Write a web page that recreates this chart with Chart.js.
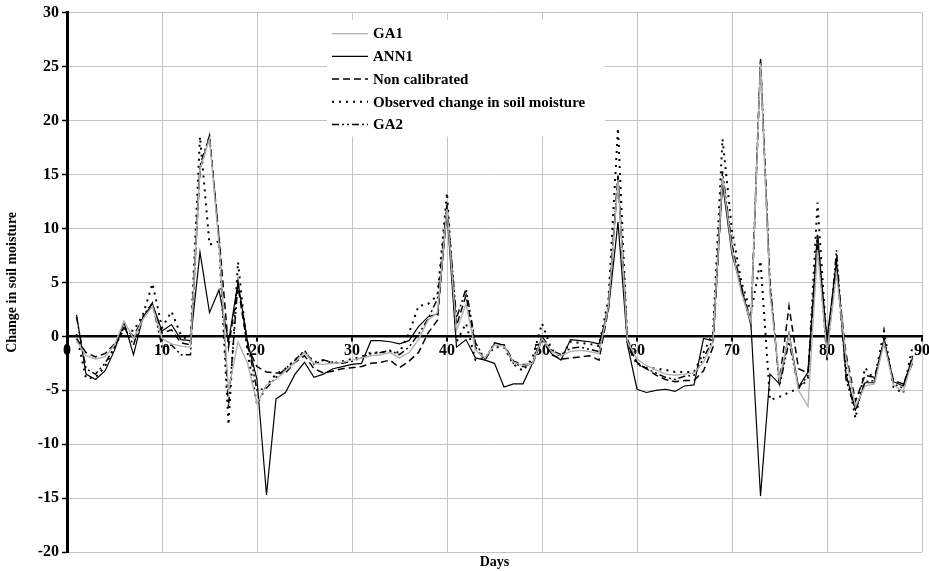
<!DOCTYPE html>
<html><head><meta charset="utf-8">
<script src="https://cdn.jsdelivr.net/npm/chart.js@4.4.1/dist/chart.umd.min.js"></script>
<style>html,body{margin:0;padding:0;background:#fff;}#wrap{width:929px;height:571px;}</style>
</head><body><div id="wrap"><canvas id="c" width="929" height="571"></canvas></div>
<script>
const days = [1,2,3,4,5,6,7,8,9,10,11,12,13,14,15,16,17,18,19,20,21,22,23,24,25,26,27,28,29,30,31,32,33,34,35,36,37,38,39,40,41,42,43,44,45,46,47,48,49,50,51,52,53,54,55,56,57,58,59,60,61,62,63,64,65,66,67,68,69,70,71,72,73,74,75,76,77,78,79,80,81,82,83,84,85,86,87,88,89];
const seriesLabels = ['GA1','ANN1','Non calibrated','Observed change in soil moisture','GA2'];
const ga1 = [-0.4,-1.8,-2.1,-1.9,-0.8,1.4,-0.2,1.6,2.8,-0.2,-0.7,-0.9,-1.0,15.5,18.3,8.5,-5.0,-0.5,-2.5,-6.2,-4.5,-4.0,-3.2,-2.4,-1.5,-2.5,-2.6,-2.5,-2.4,-2.2,-2.0,-1.8,-1.7,-1.5,-2.0,-1.5,-0.3,1.5,2.2,11.8,0.5,3.0,-1.3,-2.0,-0.8,-0.9,-2.4,-2.7,-2.5,-0.2,-1.4,-1.8,-1.4,-1.3,-1.4,-1.6,2.8,14.5,-0.5,-2.1,-2.7,-3.1,-3.5,-3.6,-3.5,-3.4,-2.4,-0.5,14.8,8.0,4.0,1.3,25.3,4.0,-4.0,0.2,-5.0,-6.5,8.0,-1.5,5.8,-2.0,-6.5,-4.6,-4.4,-0.6,-4.5,-5.1,-2.3];
const ann1 = [2.0,-3.5,-4.0,-3.2,-1.3,1.3,-1.7,1.8,3.0,0.5,1.1,-0.3,-0.4,7.8,2.2,4.3,-0.5,5.0,-0.5,-4.0,-14.7,-5.8,-5.2,-3.5,-2.4,-3.8,-3.5,-3.0,-2.8,-2.6,-2.5,-0.4,-0.4,-0.5,-0.7,-0.4,0.9,1.8,2.1,11.5,-1.0,-0.3,-2.0,-2.2,-2.5,-4.7,-4.4,-4.4,-2.5,-0.1,-1.6,-2.2,-0.3,-0.4,-0.5,-0.7,2.5,10.6,-0.8,-4.9,-5.2,-5.0,-4.9,-5.1,-4.6,-4.5,-0.2,-0.4,14.2,7.6,4.5,1.0,-14.8,-3.5,-4.4,0.3,-4.7,-3.3,9.4,-0.3,7.0,-3.5,-6.8,-4.3,-4.3,-0.3,-4.2,-4.6,-2.0];
const nonCal = [-0.2,-1.5,-1.9,-1.6,-0.7,0.8,0.0,1.7,2.9,0.3,0.6,-0.6,-0.8,15.5,18.5,9.2,-1.0,4.6,-1.0,-2.8,-3.3,-3.4,-3.4,-2.4,-1.8,-3.0,-3.4,-3.2,-3.0,-2.9,-2.8,-2.5,-2.4,-2.2,-2.9,-2.3,-1.5,0.3,1.5,12.0,1.0,3.8,-1.0,-2.2,-0.7,-0.8,-2.3,-2.6,-2.6,-0.3,-1.7,-2.1,-2.0,-1.9,-1.8,-2.2,2.6,14.8,-0.3,-2.4,-3.0,-3.6,-4.0,-4.2,-4.1,-4.1,-3.2,-1.0,14.6,8.5,4.2,1.2,25.5,4.5,-4.2,2.8,-3.0,-3.4,8.5,-0.5,6.2,-1.6,-6.0,-3.6,-3.8,-0.5,-4.1,-4.4,-2.5];
const observed = [0.2,-3.9,-3.8,-2.8,-1.0,0.7,0.5,2.0,4.9,0.8,2.3,0.1,-0.5,18.5,8.5,8.8,-8.2,6.9,-1.5,-6.3,-4.6,-3.5,-3.0,-2.2,-1.4,-2.4,-2.2,-2.5,-2.3,-2.1,-1.9,-1.5,-1.5,-1.4,-1.5,0.3,2.8,3.0,3.8,13.3,-0.5,1.2,-2.2,-2.0,-1.0,-1.0,-2.6,-3.2,-2.0,1.2,-1.2,-1.9,-0.5,-0.6,-0.7,-0.9,3.5,19.3,-0.9,-2.6,-2.9,-3.0,-3.1,-3.3,-3.3,-3.3,-1.5,0.3,18.3,9.8,5.0,2.2,7.0,-5.9,-5.6,-5.2,-4.8,-4.0,12.4,-1.0,6.5,-3.0,-7.6,-2.9,-4.0,0.5,-4.7,-5.3,-0.9];
const ga2 = [1.8,-3.0,-3.5,-2.5,-1.0,0.9,-0.8,1.9,3.1,-1.0,-0.8,-1.7,-1.7,15.8,18.6,9.0,-6.5,5.0,-0.5,-5.0,-4.8,-3.8,-3.0,-2.2,-1.3,-2.6,-2.2,-2.4,-2.5,-2.3,-2.0,-1.6,-1.5,-1.3,-1.7,-1.0,0.2,1.6,3.5,12.2,1.7,4.4,-0.6,-2.1,-0.6,-0.8,-2.5,-2.8,-2.4,0.0,-1.3,-1.7,-1.1,-1.0,-1.2,-1.4,3.0,14.9,-0.6,-2.5,-3.0,-3.4,-3.8,-4.0,-3.7,-3.6,-2.0,-0.3,15.3,8.3,4.6,1.4,25.7,5.0,-4.6,-0.5,-4.8,-3.6,9.5,-2.2,8.0,-4.0,-6.9,-4.2,-4.1,-0.2,-4.4,-4.8,-1.8];
const xTickValues = [0,10,20,30,40,50,60,70,80,90];
const yTickValues = [-20,-15,-10,-5,0,5,10,15,20,25,30];

const FONT = "'Liberation Serif','Times New Roman',serif";
const toPts = arr => days.map((d, i) => ({x: d, y: arr[i]}));

const styles = [
  {color:'#b0b0b0', width:1.4, dash:[]},
  {color:'#000000', width:1.2, dash:[]},
  {color:'#000000', width:1.5, dash:[7,4]},
  {color:'#000000', width:2.0, dash:[2,5]},
  {color:'#000000', width:1.5, dash:[7,3,2,3,2,3]}
];
const values = [ga1, ann1, nonCal, observed, ga2];

const datasets = values.map((v, i) => ({
  label: seriesLabels[i],
  data: toPts(v),
  borderColor: styles[i].color,
  borderWidth: styles[i].width,
  borderDash: styles[i].dash,
  pointRadius: 0,
  tension: 0,
  fill: false,
  xAxisID: 'x',
  yAxisID: 'y'
}));

const boxLegend = {
  id: 'boxLegend',
  afterDatasetsDraw(chart) {
    const ctx = chart.ctx;
    const ca = chart.chartArea;
    const bx = ca.left + 260, by = ca.top + 7;
    ctx.save();
    ctx.fillStyle = '#fff';
    ctx.fillRect(bx, by, 278, 117);
    ctx.font = "bold 15px " + FONT;
    ctx.textBaseline = 'middle';
    ctx.fillStyle = '#000';
    chart.data.datasets.forEach((ds, i) => {
      const y = ca.top + 21 + i * 22.7;
      ctx.beginPath();
      ctx.strokeStyle = ds.borderColor;
      ctx.lineWidth = ds.borderWidth;
      ctx.setLineDash(ds.borderDash || []);
      ctx.moveTo(bx + 5, y);
      ctx.lineTo(bx + 41, y);
      ctx.stroke();
      ctx.setLineDash([]);
      ctx.fillText(ds.label, bx + 46, y + 1);
    });
    ctx.restore();
  }
};

new Chart(document.getElementById('c'), {
  type: 'line',
  data: { datasets },
  plugins: [boxLegend],
  options: {
    responsive: false,
    animation: false,
    devicePixelRatio: 1,
    layout: { padding: {top: 5, right: 7, bottom: 0, left: 0} },
    plugins: { legend: {display: false}, tooltip: {enabled: false} },
    scales: {
      x: {
        type: 'linear', position: 'bottom', min: 0, max: 90,
        afterBuildTicks: s => { s.ticks = xTickValues.map(v => ({value: v})); },
        ticks: { display: false },
        grid: { color: '#c4c4c4', lineWidth: 1, drawTicks: false },
        border: { display: false },
        title: { display: true, text: 'Days', color: '#000', font: {family: FONT, size: 14, weight: 'bold'}, padding: {top: 2, bottom: 0} }
      },
      x2: {
        type: 'linear', axis: 'x', position: {y: 0}, min: 0, max: 90,
        afterBuildTicks: s => { s.ticks = xTickValues.map(v => ({value: v})); },
        afterFit: s => { s.paddingLeft = 0; s.paddingRight = 0; },
        ticks: { color: '#000', font: {family: FONT, size: 16, weight: 'bold'}, padding: 1, maxRotation: 0, autoSkip: false },
        grid: { drawOnChartArea: false, color: '#000', lineWidth: 2, tickLength: 4 },
        border: { color: '#000', width: 2.5 }
      },
      y: {
        type: 'linear', min: -20, max: 30,
        afterBuildTicks: s => { s.ticks = yTickValues.map(v => ({value: v})); },
        afterFit: s => { s.width = 67; },
        ticks: { color: '#000', font: {family: FONT, size: 16, weight: 'bold'}, padding: 3 },
        grid: { color: '#c4c4c4', lineWidth: 1, tickColor: '#000', tickLength: 5, tickWidth: 1.5 },
        border: { color: '#000', width: 3 },
        title: { display: true, text: 'Change in soil moisture', color: '#000', font: {family: FONT, size: 14, weight: 'bold'}, padding: {top: 4, bottom: 0} }
      }
    }
  }
});
</script>
</body></html>
